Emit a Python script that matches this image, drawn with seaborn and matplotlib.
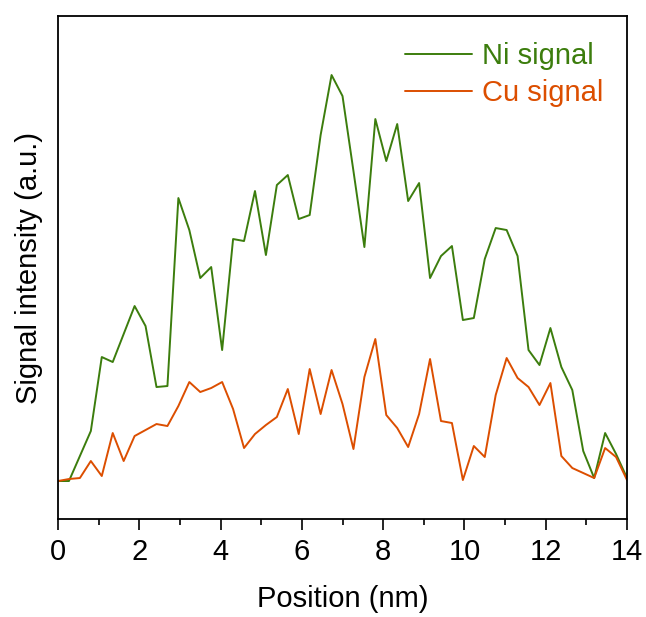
import numpy as np
import pandas as pd
import matplotlib
matplotlib.use("Agg")
import matplotlib.pyplot as plt
import seaborn as sns
from matplotlib.ticker import MultipleLocator, NullLocator

sns.set_theme(style="ticks")
plt.rcParams['font.family'] = ['Liberation Sans', 'DejaVu Sans']
plt.rcParams['text.color'] = 'black'
plt.rcParams['axes.labelcolor'] = 'black'
plt.rcParams['xtick.color'] = 'black'

# Data (arbitrary units)
position = np.linspace(0, 14, 53)
ni_signal = [38, 38, 63, 88, 162, 157, 185, 213, 193, 132, 133, 321, 289, 241, 252, 169,
             280, 278, 328, 264, 334, 344, 300, 304, 384, 444, 423, 348, 272, 400, 358, 395,
             318, 336, 241, 263, 273, 199, 201, 260, 291, 289, 263, 169, 154, 191, 152, 129,
             68, 41, 86, 65, 41]
cu_signal = [38, 40, 41, 58, 43, 86, 58, 83, 89, 95, 93, 113, 137, 127, 131, 137,
             110, 71, 85, 94, 102, 130, 85, 150, 105, 149, 115, 70, 142, 180, 104, 91,
             72, 105, 160, 98, 96, 39, 73, 62, 124, 161, 141, 132, 114, 136, 63, 51,
             46, 41, 71, 62, 39]

df = pd.DataFrame({"Position": np.concatenate([position, position]),
                   "Signal": ni_signal + cu_signal,
                   "Series": ["Ni signal"] * len(position) + ["Cu signal"] * len(position)})

fig = plt.figure(figsize=(6.46, 6.17), dpi=100)
ax = fig.add_axes([0.0898, 0.1588, 0.8808, 0.8152])

sns.lineplot(data=df, x="Position", y="Signal", hue="Series",
             palette={"Ni signal": "#3C7D0D", "Cu signal": "#DC4E00"},
             linewidth=1.4, ax=ax, legend=True)

ax.set_xlim(0, 14)
ax.set_ylim(0, 503)
ax.xaxis.set_major_locator(MultipleLocator(2))
ax.xaxis.set_minor_locator(MultipleLocator(1))
ax.yaxis.set_major_locator(NullLocator())
ax.tick_params(axis='x', which='major', direction='out', length=8, width=1.2,
               labelsize=21, pad=6, colors='black')
ax.tick_params(axis='x', which='minor', direction='out', length=4, width=1.2)
for s in ax.spines.values():
    s.set_visible(True)
    s.set_linewidth(1.3)
    s.set_color('black')

ax.set_xlabel("Position (nm)", fontsize=21, labelpad=13)
ax.set_ylabel("Signal intensity (a.u.)", fontsize=21, labelpad=11)

leg = ax.legend(loc="upper right", frameon=False, fontsize=21, handlelength=2.3,
                handletextpad=0.35, labelspacing=0.3, borderaxespad=0.3,
                bbox_to_anchor=(0.995, 0.988))
for text, line in zip(leg.get_texts(), leg.get_lines()):
    text.set_color(line.get_color())

fig.savefig("out.png", dpi=100)
